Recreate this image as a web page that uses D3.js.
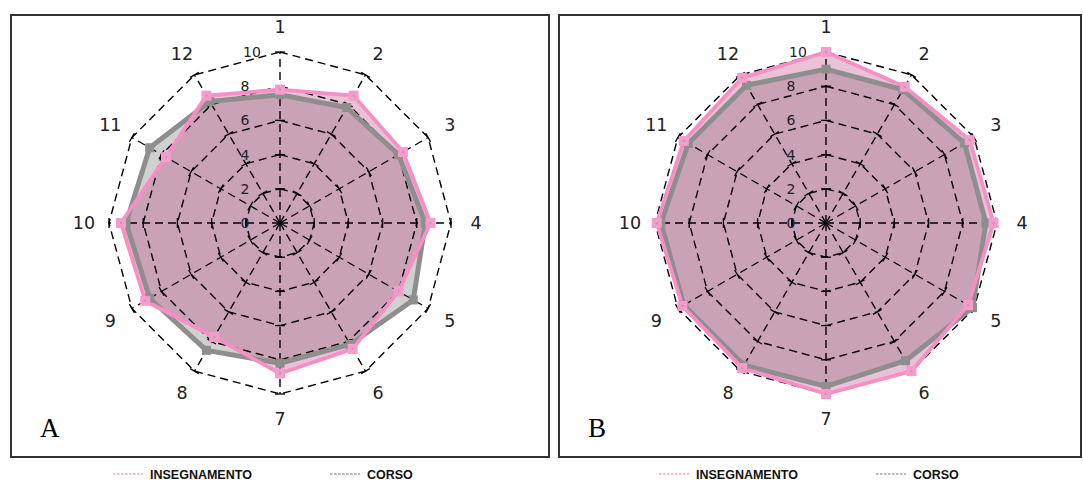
<!DOCTYPE html>
<html>
<head>
<meta charset="utf-8">
<script src="https://cdn.jsdelivr.net/npm/d3@7"></script>
<style>
  body { margin: 0; background: #fff; }
  svg { display: block; }
</style>
</head>
<body>
<div id="chart"></div>
<script>
// Axis names and ring values
const axes = ['1', '2', '3', '4', '5', '6', '7', '8', '9', '10', '11', '12'];
const ringTicks = [0, 2, 4, 6, 8, 10];

// Panel A
const insegnamentoA = [7.8, 8.6, 8.3, 8.8, 8.0, 8.5, 8.8, 7.7, 9.1, 9.3, 7.7, 8.6];
const corsoA        = [7.5, 7.8, 8.0, 8.5, 9.0, 8.2, 8.2, 8.6, 8.8, 9.0, 8.8, 8.2];

// Panel B
const insegnamentoB = [10.0, 9.2, 9.7, 9.8, 9.6, 10.0, 10.0, 9.8, 9.7, 9.9, 9.6, 9.8];
const corsoB        = [9.0, 9.0, 9.35, 9.35, 9.9, 9.3, 9.55, 9.6, 9.6, 9.65, 9.3, 9.3];

const seriesNames = ['INSEGNAMENTO', 'CORSO'];

const width = 1083, height = 480;

const svg = d3.select('#chart')
  .append('svg')
    .attr('width', width)
    .attr('height', height);

const pink = '#f78fc4';
const grey = '#8e8e8e';

const r = d3.scaleLinear().domain([0, 10]).range([0, 171]);
const angle = d3.scalePoint().domain(axes).range([0, 2 * Math.PI * 11 / 12]);

function pt(name, v) {
  const a = angle(name);
  return [Math.sin(a) * r(v), -Math.cos(a) * r(v)];
}

function drawPanel(frame, cx, cy, insegnamento, corso, letter, legendX) {
  // Frame
  svg.append('rect')
    .attr('x', frame[0]).attr('y', frame[1])
    .attr('width', frame[2]).attr('height', frame[3])
    .attr('fill', 'none')
    .attr('stroke', '#333')
    .attr('stroke-width', 2);

  const g = svg.append('g').attr('transform', `translate(${cx},${cy})`);

  const radial = d3.lineRadial()
    .angle((d, i) => angle(axes[i]))
    .radius(d => r(d))
    .curve(d3.curveLinearClosed);

  // Fills
  g.append('path')
    .attr('d', radial(corso))
    .attr('fill', 'rgba(110,110,110,0.32)');
  g.append('path')
    .attr('d', radial(insegnamento))
    .attr('fill', 'rgba(190,70,130,0.33)');

  // Grid rings
  g.append('g').selectAll('path')
    .data(ringTicks.filter(t => t > 0))
    .join('path')
      .attr('d', t => radial(axes.map(() => t)))
      .attr('fill', 'none')
      .attr('stroke', '#000')
      .attr('stroke-width', 1.4)
      .attr('stroke-dasharray', '8,5');

  // Radial axes
  g.append('g').selectAll('line')
    .data(axes)
    .join('line')
      .attr('x1', 0).attr('y1', 0)
      .attr('x2', d => pt(d, 10)[0])
      .attr('y2', d => pt(d, 10)[1])
      .attr('stroke', '#000')
      .attr('stroke-width', 1.4)
      .attr('stroke-dasharray', '8,5');

  // Tick marks on each axis
  const tickData = [];
  axes.forEach(a => ringTicks.filter(t => t > 0).forEach(t => tickData.push({ a, t })));
  g.append('g').selectAll('line')
    .data(tickData)
    .join('line')
      .attr('transform', d => {
        const p = pt(d.a, d.t);
        return `translate(${p[0]},${p[1]}) rotate(${angle(d.a) * 180 / Math.PI})`;
      })
      .attr('x1', -5).attr('x2', 5)
      .attr('y1', 0).attr('y2', 0)
      .attr('stroke', '#000')
      .attr('stroke-width', 1.3);

  // Series outlines
  g.append('path')
    .attr('d', radial(corso))
    .attr('fill', 'none')
    .attr('stroke', grey)
    .attr('stroke-width', 5)
    .attr('stroke-linejoin', 'round');
  g.append('path')
    .attr('d', radial(insegnamento))
    .attr('fill', 'none')
    .attr('stroke', pink)
    .attr('stroke-width', 3.8)
    .attr('stroke-linejoin', 'round');

  // Markers
  g.append('g').selectAll('rect')
    .data(corso)
    .join('rect')
      .attr('x', (d, i) => pt(axes[i], d)[0] - 4.5)
      .attr('y', (d, i) => pt(axes[i], d)[1] - 4.5)
      .attr('width', 9).attr('height', 9)
      .attr('fill', grey);
  const pm = g.append('g').selectAll('g')
    .data(insegnamento)
    .join('g')
      .attr('transform', (d, i) => `translate(${pt(axes[i], d)})`);
  pm.append('rect')
    .attr('x', -5).attr('y', -5)
    .attr('width', 10).attr('height', 10)
    .attr('fill', '#f59ccb');
  pm.append('rect')
    .attr('x', -1).attr('y', -1)
    .attr('width', 2).attr('height', 2)
    .attr('fill', '#b89aa8');

  // Ring value labels
  g.append('g').selectAll('text')
    .data(ringTicks)
    .join('text')
      .attr('x', t => t === 10 ? -28 : -35)
      .attr('y', t => -r(t) + 5)
      .attr('text-anchor', 'middle')
      .attr('font-family', 'DejaVu Sans, sans-serif')
      .attr('font-size', 14)
      .attr('fill', '#222')
      .text(t => t);

  // Axis labels
  g.append('g').selectAll('text')
    .data(axes)
    .join('text')
      .attr('x', d => Math.sin(angle(d)) * 196)
      .attr('y', d => -Math.cos(angle(d)) * 196)
      .attr('dy', '0.36em')
      .attr('text-anchor', 'middle')
      .attr('font-family', 'DejaVu Sans, sans-serif')
      .attr('font-size', 17.5)
      .attr('fill', '#222')
      .text(d => d);

  // Panel letter
  svg.append('text')
    .attr('x', frame[0] + 29)
    .attr('y', 437)
    .attr('font-family', 'Liberation Serif, Times New Roman, serif')
    .attr('font-size', 27)
    .attr('fill', '#000')
    .text(letter);

  // Legend
  const legend = svg.append('g').attr('transform', `translate(${legendX},474)`);
  const items = [
    { name: seriesNames[0], color: '#f47a8e', x: 0 },
    { name: seriesNames[1], color: '#777', x: 217 }
  ];
  items.forEach(it => {
    legend.append('line')
      .attr('x1', it.x).attr('x2', it.x + 30)
      .attr('y1', 0).attr('y2', 0)
      .attr('stroke', it.color)
      .attr('stroke-width', 1)
      .attr('stroke-dasharray', '2.5,1.5');
    legend.append('text')
      .attr('x', it.x + 37)
      .attr('y', 4.5)
      .attr('font-family', 'Liberation Sans, Arial, sans-serif')
      .attr('font-weight', 'bold')
      .attr('font-size', 12.5)
      .attr('fill', '#111')
      .text(it.name);
  });
}

drawPanel([11, 15, 538, 442], 280, 223, insegnamentoA, corsoA, 'A', 113);
drawPanel([559, 15, 522, 442], 826, 223, insegnamentoB, corsoB, 'B', 659);
</script>
</body>
</html>
